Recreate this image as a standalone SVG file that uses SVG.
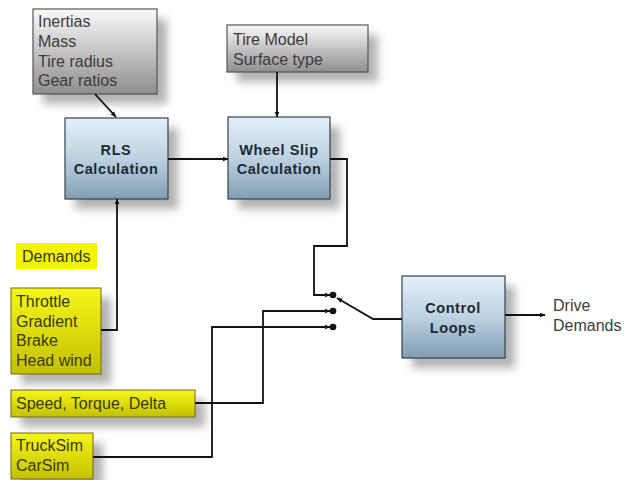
<svg xmlns="http://www.w3.org/2000/svg" width="640" height="480" viewBox="0 0 640 480">
<defs>
<linearGradient id="gGray" x1="0" y1="0" x2="0" y2="1"><stop offset="0" stop-color="#fafafa"/><stop offset="1" stop-color="#8e8e8e"/></linearGradient>
<linearGradient id="gBlue" x1="0" y1="0" x2="0" y2="1"><stop offset="0" stop-color="#e4f0fa"/><stop offset="0.5" stop-color="#bcd2e2"/><stop offset="1" stop-color="#829db2"/></linearGradient>
<linearGradient id="gYel" x1="0" y1="0" x2="0" y2="1"><stop offset="0" stop-color="#f6f61a"/><stop offset="1" stop-color="#c4c000"/></linearGradient>
<filter id="blur" x="-20%" y="-20%" width="140%" height="140%"><feGaussianBlur stdDeviation="4"/></filter>
<marker id="arr" viewBox="0 0 10 10" refX="9" refY="5" markerWidth="6" markerHeight="6" orient="auto" markerUnits="userSpaceOnUse"><path d="M0,1 L10,5 L0,9 z" fill="#111"/></marker>
</defs>
<style>
.shadow{fill:#9a9a9a;opacity:0.75;filter:url(#blur)}
.gray{fill:url(#gGray);stroke:#555;stroke-width:1.2}
.blue{fill:url(#gBlue);stroke:#34424c;stroke-width:1.2}
.yel{fill:url(#gYel);stroke:#6a6a20;stroke-width:1}
.t{font-family:"Liberation Sans",Arial,sans-serif;font-size:16px}
.tg{fill:#3c3c3c}
.ty{fill:#3a3a12}
.tb{font-family:"Liberation Sans",Arial,sans-serif;font-size:14.5px;font-weight:bold;fill:#1e2a33;text-anchor:middle;letter-spacing:0.6px}
.c{fill:none;stroke:#111;stroke-width:1.8}
.dot{fill:#111}
</style>
<rect width="640" height="480" fill="#fff"/>

<g id="inertias">
<rect class="shadow" x="43" y="19" width="124" height="85"/>
<rect class="gray" x="33" y="9" width="124" height="85"/>
<text class="t tg" x="38" y="27">Inertias</text>
<text class="t tg" x="38" y="47">Mass</text>
<text class="t tg" x="38" y="67">Tire radius</text>
<text class="t tg" x="38" y="86">Gear ratios</text>
</g>

<g id="tiremodel">
<rect class="shadow" x="237" y="35" width="141" height="47"/>
<rect class="gray" x="227" y="25" width="141" height="47"/>
<text class="t tg" x="233" y="45">Tire Model</text>
<text class="t tg" x="233" y="65">Surface type</text>
</g>

<g id="rls">
<rect class="shadow" x="75" y="128" width="103" height="81"/>
<rect class="blue" x="65" y="118" width="103" height="81"/>
<text class="tb" x="116" y="155">RLS</text>
<text class="tb" x="116" y="174">Calculation</text>
</g>

<g id="wheelslip">
<rect class="shadow" x="238" y="127" width="102" height="82"/>
<rect class="blue" x="228" y="117" width="102" height="82"/>
<text class="tb" x="279" y="155">Wheel Slip</text>
<text class="tb" x="279" y="174">Calculation</text>
</g>

<g id="control">
<rect class="shadow" x="412" y="286" width="103" height="82"/>
<rect class="blue" x="402" y="276" width="103" height="82"/>
<text class="tb" x="453" y="313">Control</text>
<text class="tb" x="453" y="333">Loops</text>
</g>

<g id="demands">
<rect x="16" y="243" width="81" height="26" fill="#f4f400"/>
<text class="t ty" x="22" y="262">Demands</text>
</g>

<g id="throttle">
<rect class="shadow" x="21" y="298" width="90" height="86"/>
<rect class="yel" x="11" y="288" width="90" height="86"/>
<text class="t ty" x="16" y="307">Throttle</text>
<text class="t ty" x="16" y="327">Gradient</text>
<text class="t ty" x="16" y="346">Brake</text>
<text class="t ty" x="16" y="366">Head wind</text>
</g>

<g id="speed">
<rect class="shadow" x="21" y="400" width="184" height="27"/>
<rect class="yel" x="11" y="390" width="184" height="27"/>
<text class="t ty" x="16" y="409">Speed, Torque, Delta</text>
</g>

<g id="trucksim">
<rect class="shadow" x="21" y="443" width="82" height="45"/>
<rect class="yel" x="11" y="433" width="82" height="46"/>
<text class="t ty" x="16" y="451">TruckSim</text>
<text class="t ty" x="16" y="471">CarSim</text>
</g>

<g id="drivedemands">
<text class="t tg" x="553" y="311">Drive</text>
<text class="t tg" x="553" y="331">Demands</text>
</g>

<g id="connectors">
<path class="c" d="M95,94 L116,117" marker-end="url(#arr)"/>
<path class="c" d="M277,72 L277,117" marker-end="url(#arr)"/>
<path class="c" d="M168,159 L228,159" marker-end="url(#arr)"/>
<path class="c" d="M101,330 L117,330 L117,199" marker-end="url(#arr)"/>
<path class="c" d="M330,159 L347,159 L347,246 L314,246 L314,295 L330,295" marker-end="url(#arr)"/>
<path class="c" d="M195,403 L263,403 L263,311 L330,311" marker-end="url(#arr)"/>
<path class="c" d="M93,457 L212,457 L212,327 L330,327" marker-end="url(#arr)"/>
<circle class="dot" cx="333" cy="295" r="3.3"/>
<circle class="dot" cx="333" cy="311" r="3.3"/>
<circle class="dot" cx="333" cy="327" r="3.3"/>
<path class="c" d="M402,319 L373,319 L337,298" marker-end="url(#arr)"/>
<path class="c" d="M505,315 L545,315" marker-end="url(#arr)"/>
</g>
</svg>
